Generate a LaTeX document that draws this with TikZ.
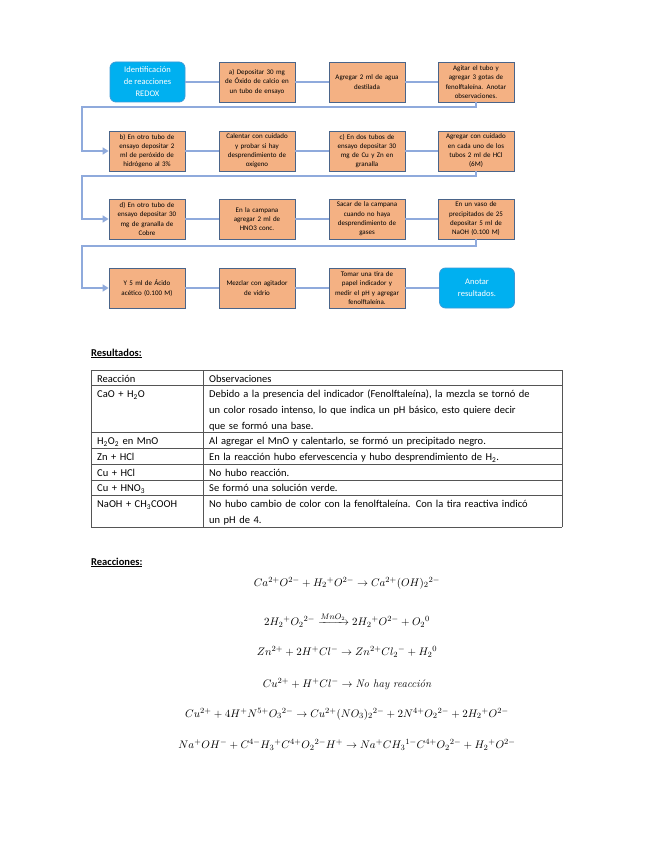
\documentclass[tikz,border=0pt]{standalone}
\usepackage{amsmath}
\usepackage{fontspec}
\newfontfamily\calib{Carlito}
\usetikzlibrary{arrows.meta}
\definecolor{boxorange}{HTML}{F4B183}
\definecolor{boxedge}{HTML}{4A6489}
\definecolor{bluefill}{HTML}{00B0F0}
\definecolor{blueedge}{HTML}{3A9AD8}
\definecolor{connc}{HTML}{8FAADC}
\definecolor{tabline}{HTML}{555555}
\tikzset{
  stepbox/.style={draw=boxedge, line width=0.8pt, fill=boxorange, minimum width=76pt, minimum height=40pt,
    inner sep=1pt, align=center, text width=73pt, font=\calib\fontsize{7}{9.3}\selectfont},
  endbox/.style={draw=blueedge, line width=0.8pt, fill=bluefill, rounded corners=6pt, text=white,
    minimum width=75pt, minimum height=40pt, inner sep=1pt, align=center, font=\calib\fontsize{8.5}{12}\selectfont},
  conn/.style={draw=connc, line width=1.5pt},
  arrowconn/.style={conn, -{Triangle[length=6pt,width=7pt]}},
  tabtext/.style={anchor=base west, inner sep=0pt, align=left, text width=350pt, font=\calib\fontsize{10.5}{15.7}\selectfont},
  heading/.style={anchor=base west, inner sep=0pt, font=\calib\fontsize{10.5}{13}\selectfont\bfseries},
  eqn/.style={inner sep=0pt, font=\fontsize{11}{13}\selectfont},
  tabrule/.style={draw=tabline, line width=0.8pt}
}
\begin{document}
\begin{tikzpicture}[x=1pt,y=-1pt]
\useasboundingbox (0,0) rectangle (655,848);
\fill[white] (0,0) rectangle (655,848);

% ---- flowchart ----
\node[endbox]  (r1c1) at (147.5,82) {Identificación\\de reacciones\\REDOX};
\node[stepbox] (r1c2) at (257,82) {a) Depositar 30 mg\\de Óxido de calcio en\\un tubo de ensayo};
\node[stepbox] (r1c3) at (367,82) {Agregar 2 ml de agua\\destilada};
\node[stepbox] (r1c4) at (476,82) {Agitar el tubo y\\agregar 3 gotas de\\fenolftaleína. Anotar\\observaciones.};

\node[stepbox] (r2c1) at (147,151) {b) En otro tubo de\\ensayo depositar 2\\ml de peróxido de\\hidrógeno al 3\%};
\node[stepbox] (r2c2) at (257,151) {Calentar con cuidado\\y probar si hay\\desprendimiento de\\oxígeno};
\node[stepbox] (r2c3) at (367,151) {c) En dos tubos de\\ensayo depositar 30\\mg de Cu y Zn en\\granalla};
\node[stepbox] (r2c4) at (476,151) {Agregar con cuidado\\en cada uno de los\\tubos 2 ml de HCl\\(6M)};

\node[stepbox] (r3c1) at (147,219) {d) En otro tubo de\\ensayo depositar 30\\mg de granalla de\\Cobre};
\node[stepbox] (r3c2) at (257,219) {En la campana\\agregar 2 ml de\\HNO3 conc.};
\node[stepbox] (r3c3) at (367,219) {Sacar de la campana\\cuando no haya\\desprendimiento de\\gases};
\node[stepbox] (r3c4) at (476,219) {En un vaso de\\precipitados de 25\\depositar 5 ml de\\NaOH (0.100 M)};

\node[stepbox] (r4c1) at (147,288) {Y 5 ml de Ácido\\acético (0.100 M)};
\node[stepbox] (r4c2) at (257,288) {Mezclar con agitador\\de vidrio};
\node[stepbox] (r4c3) at (367,288) {Tomar una tira de\\papel indicador y\\medir el pH y agregar\\fenolftaleína.};
\node[endbox]  (r4c4) at (477,288) {Anotar\\resultados.};

\coordinate (ret1) at (82,107);
\coordinate (ret2) at (82,176);
\coordinate (ret3) at (82,246);

\draw[conn] (r1c1) -- (r1c2);
\draw[conn] (r1c2) -- (r1c3);
\draw[conn] (r1c3) -- (r1c4);
\draw[arrowconn] (r1c4.south) |- (ret1) |- (r2c1.west);
\draw[conn] (r2c1) -- (r2c2);
\draw[conn] (r2c2) -- (r2c3);
\draw[conn] (r2c3) -- (r2c4);
\draw[arrowconn] (r2c4.south) |- (ret2) |- (r3c1.west);
\draw[conn] (r3c1) -- (r3c2);
\draw[conn] (r3c2) -- (r3c3);
\draw[conn] (r3c3) -- (r3c4);
\draw[arrowconn] (r3c4.south) |- (ret3) |- (r4c1.west);
\draw[conn] (r4c1) -- (r4c2);
\draw[conn] (r4c2) -- (r4c3);
\draw[conn] (r4c3) -- (r4c4);

% ---- results table ----
\node[heading] (hres) at (91,356) {\underline{Resultados:}};

\foreach \yy in {370,385.7,432.8,448.5,464.2,479.9,495.6,527}
  \draw[tabrule] (91,\yy) -- (562,\yy);
\foreach \xx in {91,203,562}
  \draw[tabrule] (\xx,370) -- (\xx,527);

\node[tabtext] (t0a) at (97,382) {Reacción};
\node[tabtext] (t0b) at (209,382) {Observaciones};
\node[tabtext] (t1a) at (97,397.7) {CaO + H\textsubscript{2}O};
\node[tabtext] (t1b) at (209,397.7) {Debido a la presencia del indicador (Fenolftaleína), la mezcla se tornó de\\un color rosado intenso, lo que indica un pH básico, esto quiere decir\\que se formó una base.};
\node[tabtext] (t2a) at (97,444.8) {H\textsubscript{2}O\textsubscript{2} en MnO};
\node[tabtext] (t2b) at (209,444.8) {Al agregar el MnO y calentarlo, se formó un precipitado negro.};
\node[tabtext] (t3a) at (97,460.5) {Zn + HCl};
\node[tabtext] (t3b) at (209,460.5) {En la reacción hubo efervescencia y hubo desprendimiento de H\textsubscript{2}.};
\node[tabtext] (t4a) at (97,476.2) {Cu + HCl};
\node[tabtext] (t4b) at (209,476.2) {No hubo reacción.};
\node[tabtext] (t5a) at (97,491.9) {Cu + HNO\textsubscript{3}};
\node[tabtext] (t5b) at (209,491.9) {Se formó una solución verde.};
\node[tabtext] (t6a) at (97,507.6) {NaOH + CH\textsubscript{3}COOH};
\node[tabtext] (t6b) at (209,507.6) {No hubo cambio de color con la fenolftaleína. Con la tira reactiva indicó\\un pH de 4.};

% ---- reactions ----
\node[heading] (hrea) at (91,565) {\underline{Reacciones:}};

\node[eqn] (e1) at (347,583) {$Ca^{2+}O^{2-} + H_2{}^{+}O^{2-} \rightarrow Ca^{2+}(OH)_2{}^{2-}$};
\node[eqn] (e2) at (347,620) {$2H_2{}^{+}O_2{}^{2-} \xrightarrow{MnO_2} 2H_2{}^{+}O^{2-} + O_2{}^{0}$};
\node[eqn] (e3) at (347,652) {$Zn^{2+} + 2H^{+}Cl^{-} \rightarrow Zn^{2+}Cl_2{}^{-} + H_2{}^{0}$};
\node[eqn] (e4) at (347,684) {$Cu^{2+} + H^{+}Cl^{-} \rightarrow \textit{No hay reacción}$};
\node[eqn] (e5) at (347,714) {$Cu^{2+} + 4H^{+}N^{5+}O_3{}^{2-} \rightarrow Cu^{2+}(NO_3)_2{}^{2-} + 2N^{4+}O_2{}^{2-} + 2H_2{}^{+}O^{2-}$};
\node[eqn] (e6) at (347,745) {$Na^{+}OH^{-} + C^{4-}H_3{}^{+}C^{4+}O_2{}^{2-}H^{+} \rightarrow Na^{+}CH_3{}^{1-}C^{4+}O_2{}^{2-} + H_2{}^{+}O^{2-}$};
\end{tikzpicture}
\end{document}
